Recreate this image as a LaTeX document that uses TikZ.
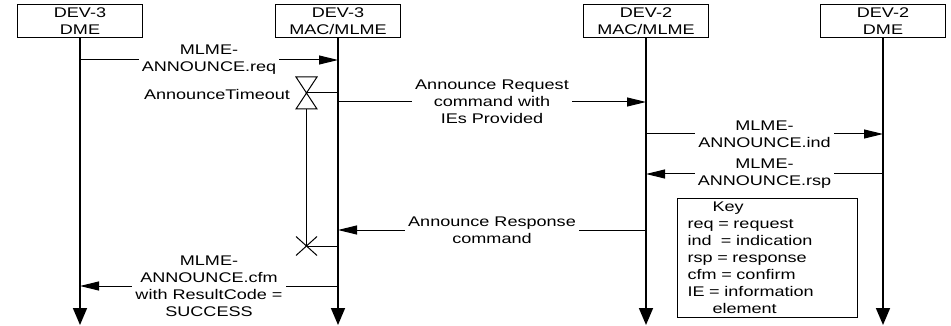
\documentclass[tikz,border=0pt]{standalone}
\usepackage{fontspec}
\setmainfont{Liberation Sans}[FakeStretch=1.29]
\usetikzlibrary{arrows.meta,positioning,calc}

\begin{document}
\begin{tikzpicture}[x=1pt, y=-1pt, >={Triangle[width=9pt,length=19pt]},
  every node/.style={font=\fontsize{14}{17}\selectfont},
  entity/.style={draw,line width=1pt,minimum width=125pt,minimum height=33pt,inner sep=0pt,align=center},
  lifeline/.style={line width=1.7pt,-{Triangle[width=14pt,length=17pt]}},
  msg/.style={line width=1pt},
  msglabel/.style={fill=white,align=center,inner xsep=3pt,inner ysep=1pt}]
\useasboundingbox (0,0) rectangle (951,326);
% entities
\node[entity] (dme3) at (80,21.5) {DEV-3\\DME};
\node[entity] (mac3) at (338,21.5) {DEV-3\\MAC/MLME};
\node[entity] (mac2) at (646,21.5) {DEV-2\\MAC/MLME};
\node[entity] (dme2) at (883,21.5) {DEV-2\\DME};
% lifelines
\coordinate (bottom) at (0,325);
\foreach \ent in {dme3,mac3,mac2,dme2}
  \draw[lifeline] (\ent.south) -- (\ent|-bottom);
% message levels
\coordinate (req) at (0,60);
\coordinate (tmr) at (306.5,93);
\coordinate (arq) at (0,102);
\coordinate (ind) at (0,134);
\coordinate (rsp) at (0,174);
\coordinate (ars) at (0,230);
\coordinate (tmrx) at (306.5,246);
\coordinate (cfm) at (0,286);
% messages
\draw[msg,->] (dme3|-req) -- node[msglabel]{MLME-\\ANNOUNCE.req} (mac3|-req);
\draw[msg,->] (mac3|-arq) -- node[msglabel]{Announce Request\\command with\\IEs Provided} (mac2|-arq);
\draw[msg,->] (mac2|-ind) -- node[msglabel]{MLME-\\ANNOUNCE.ind} (dme2|-ind);
\draw[msg,->] (dme2|-rsp) -- node[msglabel]{MLME-\\ANNOUNCE.rsp} (mac2|-rsp);
\draw[msg,->] (mac2|-ars) -- node[msglabel]{Announce Response\\command} (mac3|-ars);
\draw[msg,->] (mac3|-cfm) -- node[msglabel]{MLME-\\ANNOUNCE.cfm\\with ResultCode =\\SUCCESS} (dme3|-cfm);
% timer
\draw[msg] ($(tmr)+(-10.5,-16)$) -- ($(tmr)+(10.5,-16)$) -- ($(tmr)+(-10.5,16)$) -- ($(tmr)+(10.5,16)$) -- cycle;
\node[anchor=east] (tmrlabel) at ($(tmr)+(-13,1)$) {AnnounceTimeout};
\draw[msg] (tmr) -- (mac3|-tmr);
\draw[msg] ($(tmr)+(0,16)$) -- (tmrx);
\draw[msg] ($(tmrx)+(-10.5,-9.5)$) -- ($(tmrx)+(10.5,9.5)$);
\draw[msg] ($(tmrx)+(-10.5,9.5)$) -- ($(tmrx)+(10.5,-9.5)$);
\draw[msg] (tmrx) -- (mac3|-tmrx);
% key
\node[draw,line width=1pt,anchor=north west,align=left,text width=160pt,inner xsep=10pt,
  inner ysep=0pt,minimum height=119pt] (key) at (677,198)
  {\hspace*{25pt}Key\\req = request\\ind\ \ = indication\\rsp = response\\cfm = confirm\\IE = information\\\hspace*{25pt}element};
\end{tikzpicture}
\end{document}
